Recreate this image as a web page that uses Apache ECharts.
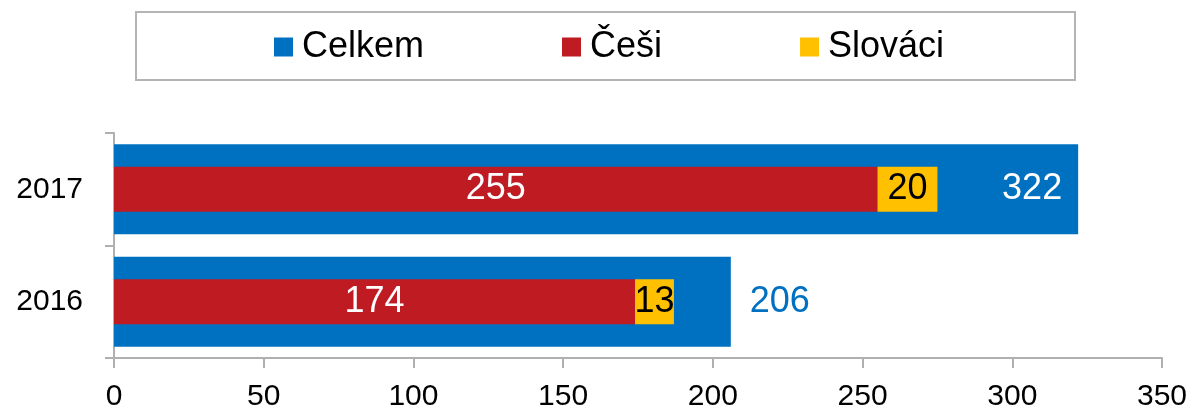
<!DOCTYPE html>
<html>
<head>
<meta charset="utf-8">
<script src="https://cdn.jsdelivr.net/npm/echarts@6/dist/echarts.min.js"></script>
<style>
  html, body { margin: 0; padding: 0; background: #fff; }
  #chart { width: 1193px; height: 412px; }
</style>
</head>
<body>
<div id="chart"></div>
<script>
// data
const years = ['2016', '2017']
const celkem = [206, 322]
const cesi = [174, 255]
const slovaci = [13, 20]

const BLUE = '#0070C0'
const RED = '#BE1B22'
const YELLOW = '#FFC000'
const AXIS = '#b0b0b0'
const FONT = '"Liberation Sans", Arial, sans-serif'

const chart = echarts.init(document.getElementById('chart'))

// total label sits inside the long bar, outside the short one
const celkemData = celkem.map(v => v > 300
  ? { value: v, label: { position: 'insideRight', distance: 16, color: '#fff' } }
  : { value: v, label: { position: 'right', distance: 19, color: BLUE } })

chart.setOption({
  animation: false,
  backgroundColor: '#fff',
  textStyle: { fontFamily: FONT },
  graphic: [{
    type: 'rect',
    shape: { x: 136, y: 12, width: 939, height: 68 },
    style: { fill: 'none', stroke: '#b4b4b4', lineWidth: 2 },
    z: -1,
  }],
  legend: {
    left: 274,
    top: 29,
    padding: 0,
    itemWidth: 19,
    itemHeight: 19,
    itemGap: 138,
    icon: 'rect',
    textStyle: { fontSize: 36, color: '#000', fontFamily: FONT, padding: [0, 0, 0, 4] },
    data: ['Celkem', 'Češi', 'Slováci'],
  },
  grid: { left: 114, right: 31, top: 133, bottom: 52 },
  xAxis: {
    type: 'value',
    min: 0,
    max: 350,
    interval: 50,
    axisLine: { show: true, lineStyle: { color: AXIS, width: 2 } },
    axisTick: { show: true, length: 10, lineStyle: { color: AXIS, width: 2 } },
    splitLine: { show: false },
    axisLabel: { fontSize: 30, color: '#000', margin: 24, fontFamily: FONT },
  },
  yAxis: [{
    type: 'category',
    data: years,
    axisLine: { show: true, lineStyle: { color: AXIS, width: 2 } },
    axisTick: { show: true, length: 9, lineStyle: { color: AXIS, width: 2 } },
    axisLabel: { fontSize: 30, color: '#000', margin: 31, padding: [4, 0, 0, 0], fontFamily: FONT },
  }, {
    type: 'category',
    data: years,
    show: false,
  }],
  series: [{
    name: 'Celkem',
    type: 'bar',
    yAxisIndex: 0,
    barWidth: '80%',
    itemStyle: { color: BLUE },
    label: { show: true, fontSize: 36, fontFamily: FONT },
    data: celkemData,
    z: 1,
  }, {
    name: 'Češi',
    type: 'bar',
    yAxisIndex: 1,
    stack: 'narod',
    barWidth: '40%',
    itemStyle: { color: RED },
    label: { show: true, position: 'inside', color: '#fff', fontSize: 36, fontFamily: FONT },
    data: cesi,
    z: 2,
  }, {
    name: 'Slováci',
    type: 'bar',
    yAxisIndex: 1,
    stack: 'narod',
    barWidth: '40%',
    itemStyle: { color: YELLOW },
    label: { show: true, position: 'inside', color: '#000', fontSize: 36, fontFamily: FONT },
    data: slovaci,
    z: 2,
  }],
})
</script>
</body>
</html>
